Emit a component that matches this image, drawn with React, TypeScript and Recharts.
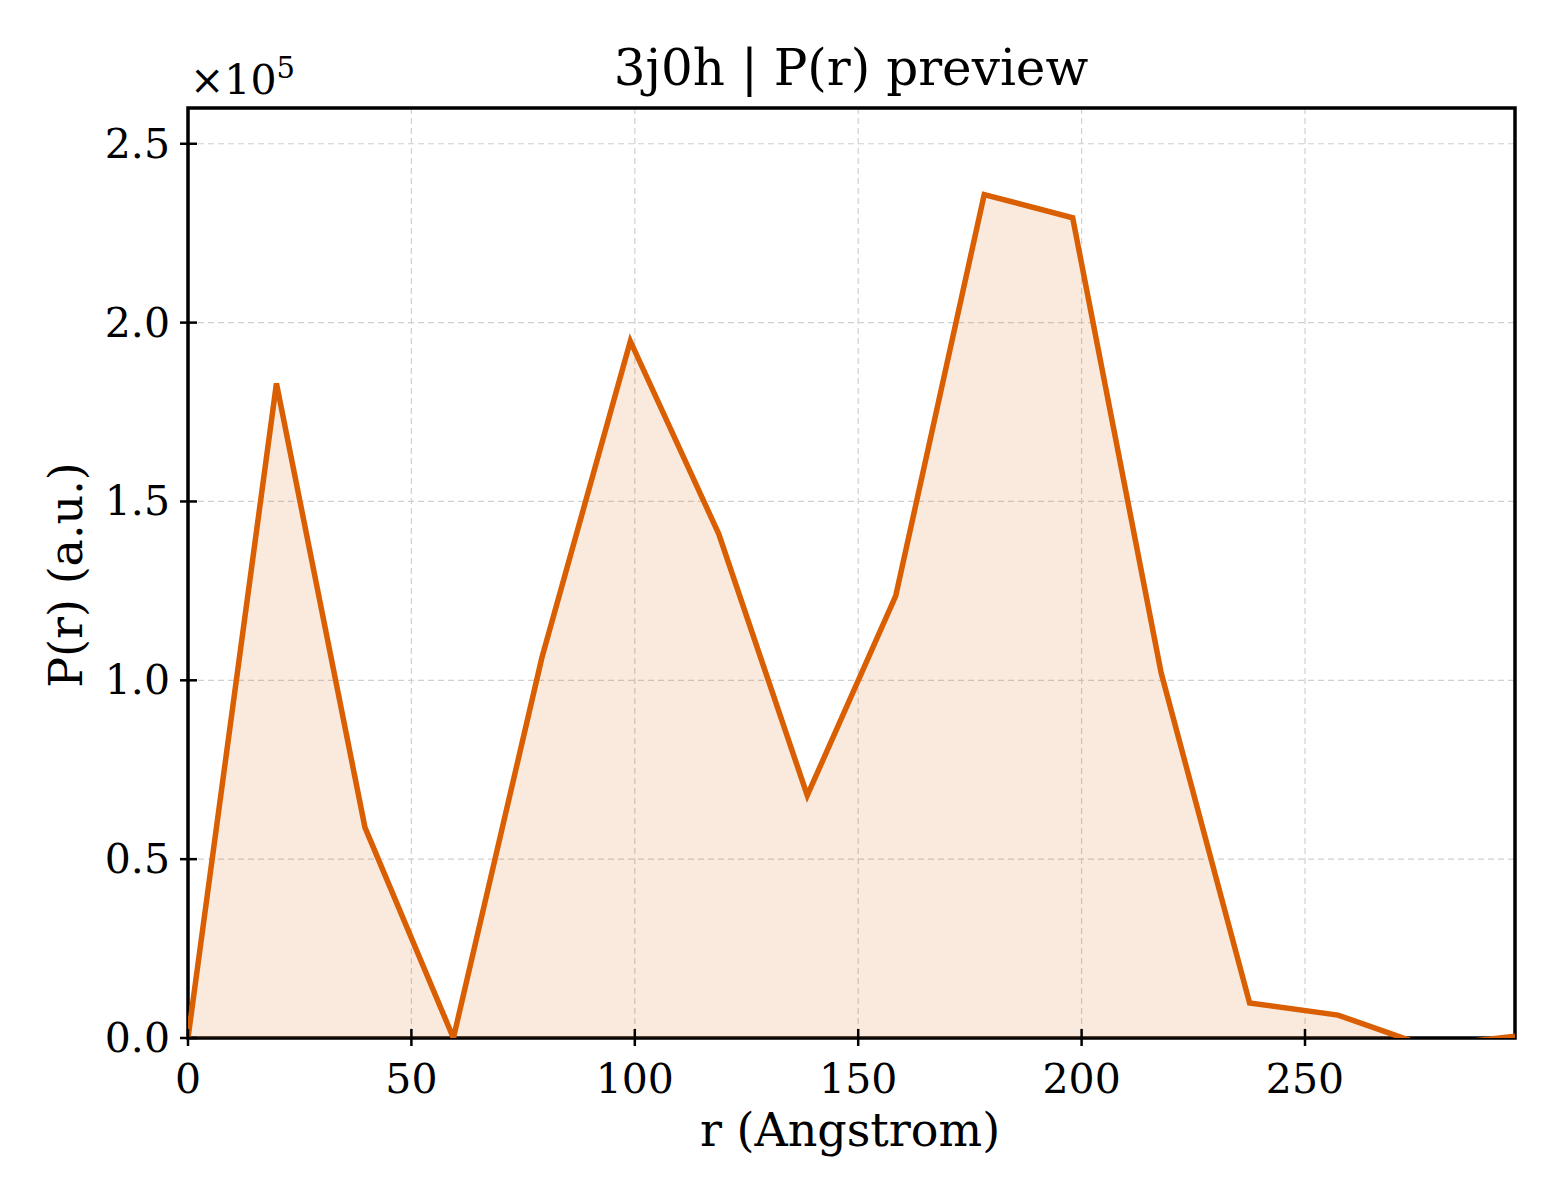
import { ComposedChart, Area, XAxis, YAxis, CartesianGrid } from 'recharts'

// r in Angstrom, P(r) in units of 1e5
const rValues = [0, 19.8, 39.6, 59.4, 79.2, 99, 118.8, 138.6, 158.4, 178.2, 198, 217.8, 237.6, 257.4, 277.2, 297]
const prValues = [0, 1.83, 0.589, 0, 1.063, 1.948, 1.409, 0.678, 1.236, 2.358, 2.293, 1.021, 0.098, 0.064, -0.023, 0.005]
const xTicks = [0, 50, 100, 150, 200, 250]
const yTicks = [0, 0.5, 1.0, 1.5, 2.0, 2.5]

const data = rValues.map((r, i) => ({ r, pr: prValues[i] }))

const FONT = '"DejaVu Serif", serif'
const ORANGE = '#d95f02'

function XTick({ x, y, payload }: any) {
  return (
    <g>
      <line x1={x} x2={x} y1={y} y2={y - 17} stroke="#000" strokeWidth={2.5} />
      <text x={x} y={y + 47} textAnchor="middle" fontFamily={FONT} fontSize={41} fill="#000">
        {payload.value}
      </text>
    </g>
  )
}

function YTick({ x, y, payload }: any) {
  return (
    <g>
      <line x1={x} x2={x + 17} y1={y} y2={y} stroke="#000" strokeWidth={2.5} />
      <text x={x - 10} y={y + 14} textAnchor="end" fontFamily={FONT} fontSize={41} fill="#000">
        {payload.value.toFixed(1)}
      </text>
    </g>
  )
}

export default function App() {
  return (
    <div style={{ position: 'absolute', left: 0, top: 0, width: 1560, height: 1200, background: '#fff' }}>
      <ComposedChart
        width={1560}
        height={1200}
        data={data}
        margin={{ top: 108, right: 45, left: 108, bottom: 102 }}
      >
        <CartesianGrid stroke="#d0d0d0" strokeDasharray="6 4" strokeWidth={1.2} />
        <XAxis
          dataKey="r"
          type="number"
          domain={[0, 297]}
          ticks={xTicks}
          allowDataOverflow
          height={60}
          axisLine={false}
          tickLine={false}
          tick={<XTick />}
          interval={0}
        />
        <YAxis
          type="number"
          domain={[0, 2.6]}
          ticks={yTicks}
          allowDataOverflow
          width={80}
          axisLine={false}
          tickLine={false}
          tick={<YTick />}
          interval={0}
        />
        <Area
          type="linear"
          dataKey="pr"
          stroke={ORANGE}
          strokeWidth={5.5}
          fill={ORANGE}
          fillOpacity={0.13}
          baseValue={0}
          dot={false}
          activeDot={false}
          isAnimationActive={false}
        />
        <rect x={188} y={108} width={1327} height={930} fill="none" stroke="#000" strokeWidth={3.5} />
        <text x={851} y={85} textAnchor="middle" fontFamily={FONT} fontSize={50} fill="#000">
          3j0h | P(r) preview
        </text>
        <text x={190} y={94} fontFamily={FONT} fontSize={41} fill="#000">
          ×10<tspan dy={-16} fontSize={29}>5</tspan>
        </text>
        <text x={850} y={1146} textAnchor="middle" fontFamily={FONT} fontSize={46} fill="#000">
          r (Angstrom)
        </text>
        <text
          x={82}
          y={575}
          textAnchor="middle"
          fontFamily={FONT}
          fontSize={46}
          fill="#000"
          transform="rotate(-90 82 575)"
        >
          P(r) (a.u.)
        </text>
      </ComposedChart>
    </div>
  )
}
